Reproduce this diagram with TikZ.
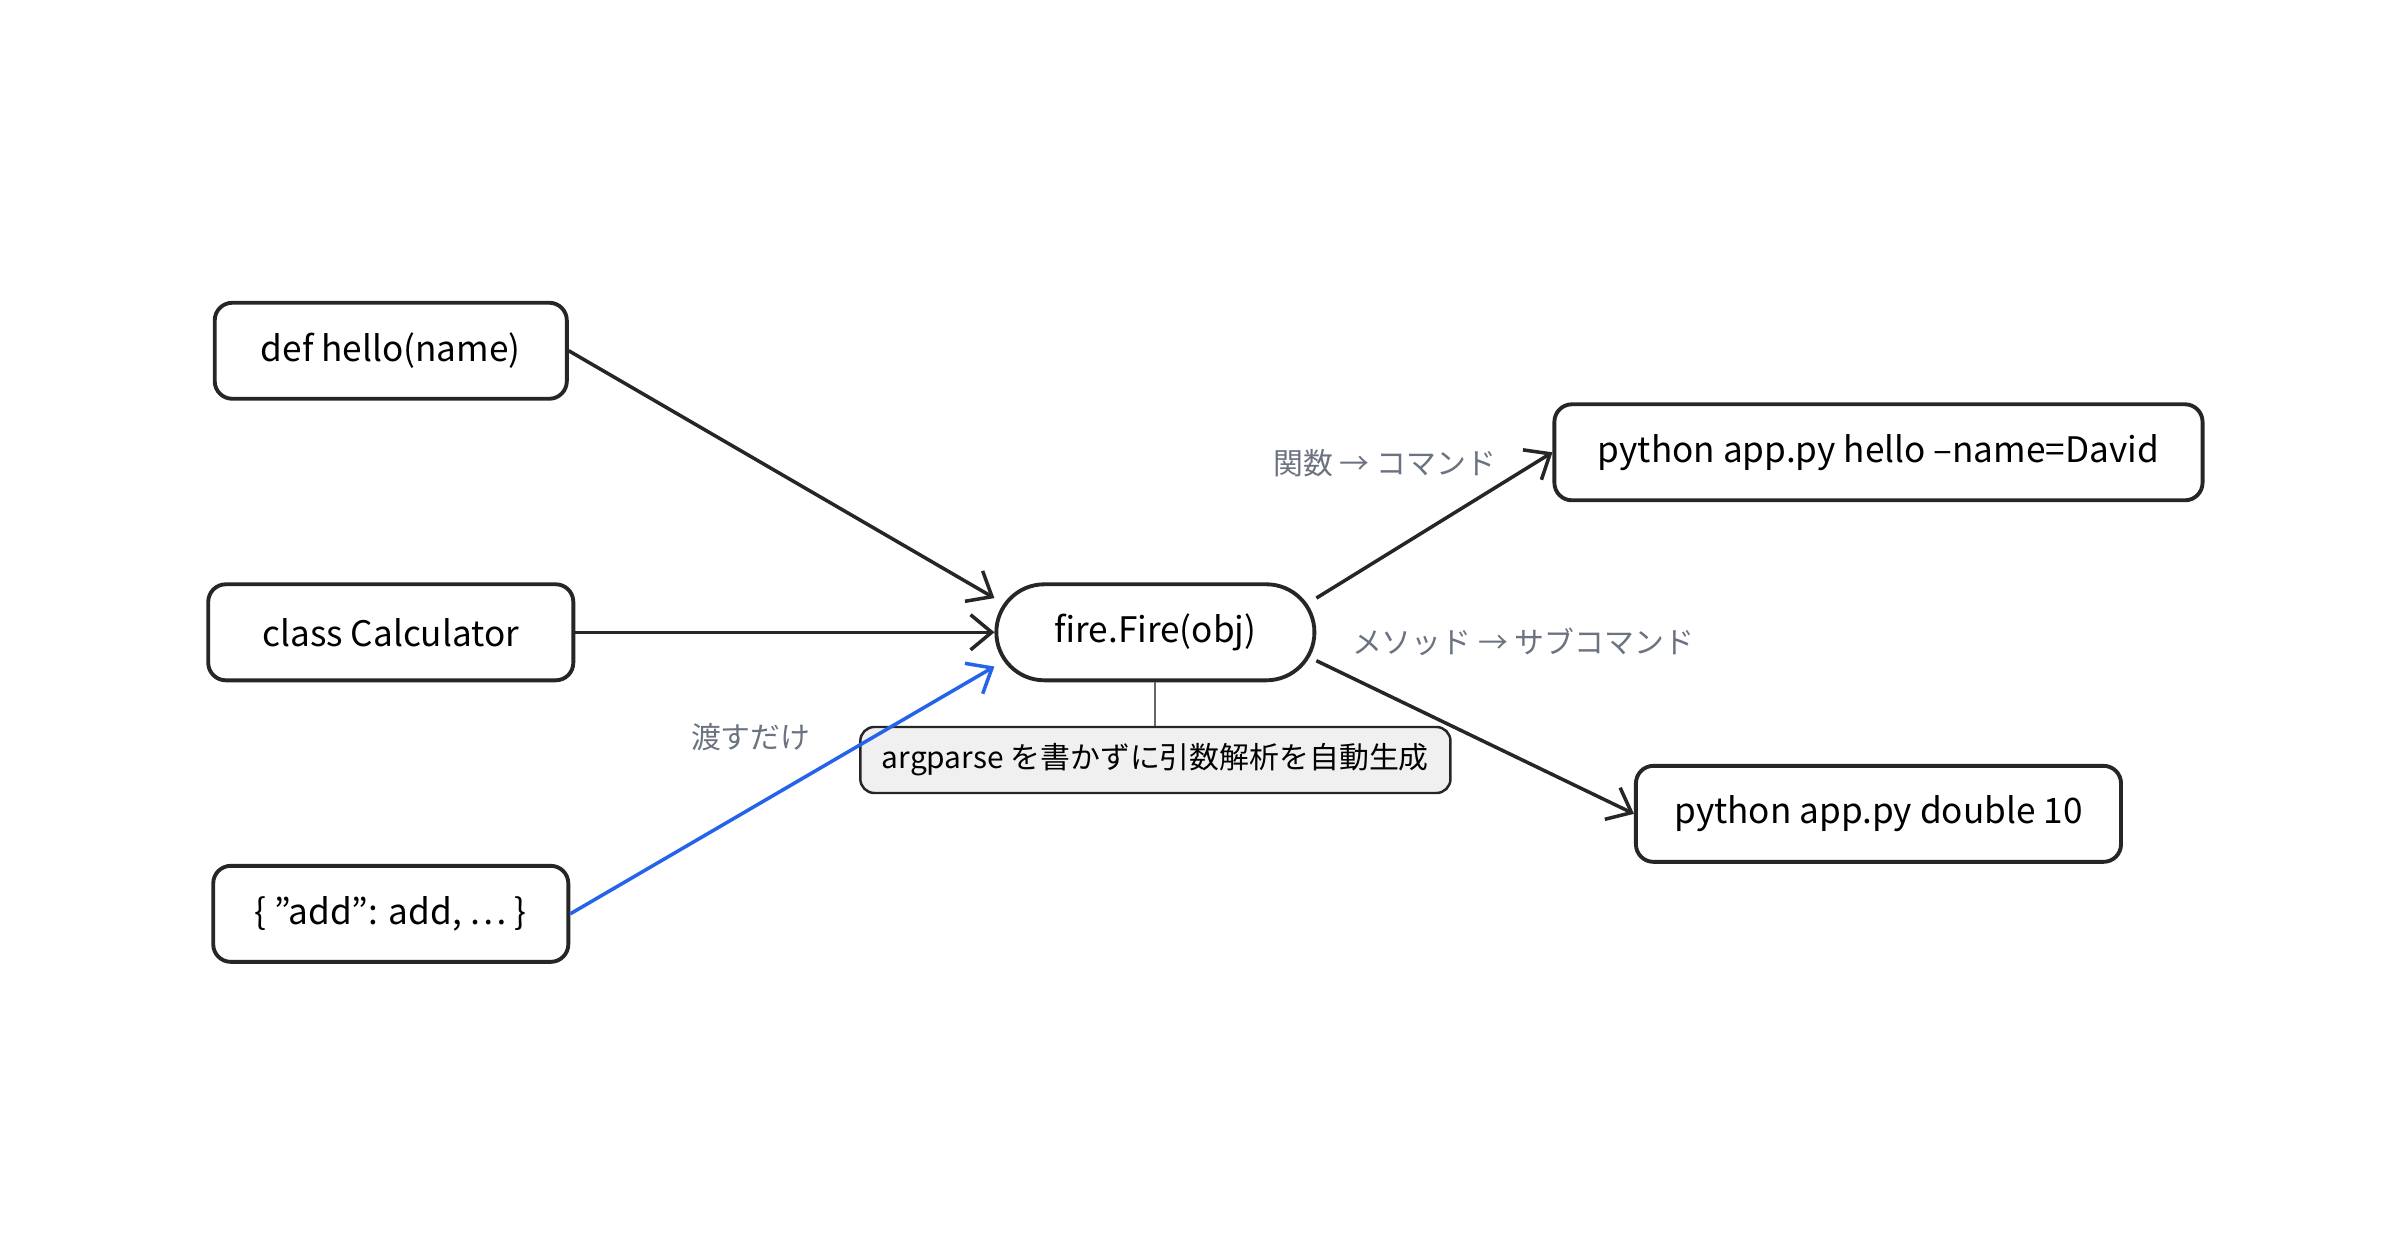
\documentclass[tikz,border=0pt]{standalone}
\usepackage{fontspec}
\setmainfont{Noto Sans CJK JP}
\usetikzlibrary{arrows.meta,positioning}
\definecolor{lblgray}{HTML}{6B7280}
\definecolor{flowblue}{HTML}{2563EB}
\tikzset{
  box/.style={draw=black!85,line width=1.1pt,rounded corners=5pt,fill=white,inner sep=0pt,minimum height=0.96cm},
  pill/.style={draw=black!85,line width=1.1pt,rounded corners=0.48cm,fill=white,minimum width=3.18cm,minimum height=0.96cm},
  note/.style={draw=black!85,line width=0.7pt,rounded corners=4pt,fill=black!6,minimum width=5.9cm,minimum height=0.66cm},
  flow/.style={line width=1pt,draw=black!85,-{Straight Barb[length=6pt,width=10pt]}},
  lbl/.style={text=lblgray,font=\fontsize{8.5}{10}\selectfont},
}
\begin{document}
\begin{tikzpicture}[x=0.01538cm,y=-0.01538cm,font=\fontsize{10}{12}\selectfont]
\useasboundingbox (0,0) rectangle (1560,819);
% inputs
\node[box,minimum width=3.52cm] (hello) at (254,228) {def hello(name)};
\node[box,minimum width=3.65cm] (calc) at (254,411) {class Calculator};
\node[box,minimum width=3.55cm] (dict) at (254,594) {\{ "add": add, … \}};
% center
\node[pill] (fire) at (751,411) {fire.Fire(obj)};
\node[note] (note) at (751,494) {\fontsize{8.5}{10}\selectfont argparse を書かずに引数解析を自動生成};
% outputs
\node[box,minimum width=6.48cm] (out1) at (1221,294) {python app.py hello --name=David};
\node[box,minimum width=4.85cm] (out2) at (1221,529) {python app.py double 10};
% connectors
\draw[flow] (hello.east) -- (fire.168);
\draw[flow] (calc.east) -- (fire.west);
\draw[flow,draw=flowblue] (dict.east) -- (fire.192);
\draw[draw=black!60,line width=0.6pt] (fire.south) -- (note.north);
\draw[flow] (fire.12) -- (out1.west);
\draw[flow] (fire.-10) -- (out2.west);
% labels
\node[lbl] (l1) at (900,301) {関数 → コマンド};
\node[lbl] (l2) at (990,417) {メソッド → サブコマンド};
\node[lbl] (l3) at (488,479) {渡すだけ};
\end{tikzpicture}
\end{document}
